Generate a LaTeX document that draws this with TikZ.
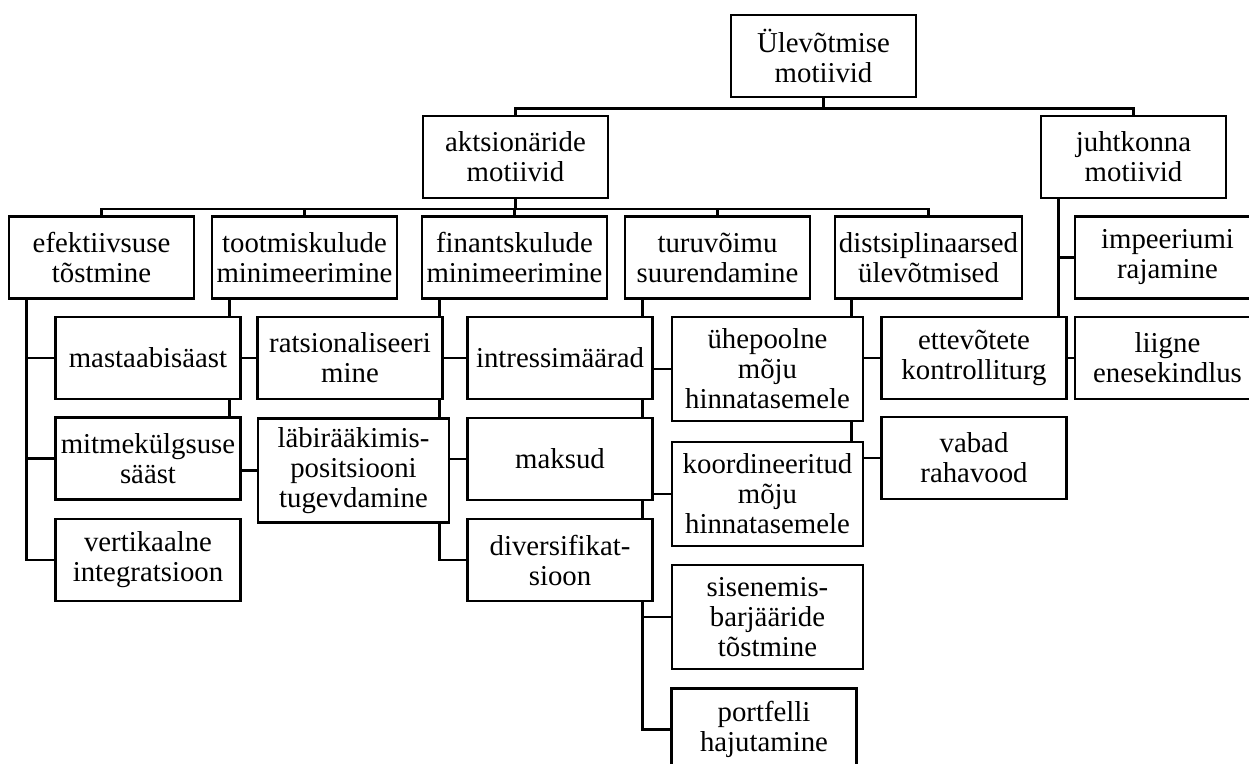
\documentclass[tikz,border=0pt]{standalone}
\usepackage{fontspec}
\setmainfont{Liberation Serif}
\usetikzlibrary{backgrounds}

\begin{document}
\begin{tikzpicture}[x=1pt, y=-1pt,
	box/.style={draw, fill=white, line width=2.6pt, align=center, inner sep=0pt,
		minimum width=185pt, minimum height=82pt, font=\fontsize{28.8}{30}\selectfont},
	tall/.style={minimum width=191pt, minimum height=104pt},
	link/.style={line width=2.6pt}]
	\useasboundingbox (0, 0) rectangle (1249, 763);
	\clip (0, 0) rectangle (1249, 763);
	\node [box] (top) at (823.5, 56) {Ülevõtmise\\motiivid};
	\node [box] (akts) at (515.5, 157) {aktsionäride\\motiivid};
	\node [box] (juht) at (1133.5, 157) {juhtkonna\\motiivid};
	\node [box] (efekt) at (101.5, 257.5) {efektiivsuse\\tõstmine};
	\node [box] (tootm) at (304.5, 257.5) {tootmiskulude\\minimeerimine};
	\node [box] (fin) at (514.5, 257.5) {finantskulude\\minimeerimine};
	\node [box] (turu) at (717.5, 257.5) {turuvõimu\\suurendamine};
	\node [box, minimum width=187pt] (distsip) at (928.5, 257.5) {distsiplinaarsed\\ülevõtmised};
	\node [box] (impeerium) at (1167.5, 257.5) {impeeriumi\\rajamine};
	\node [box] (mastaap) at (148, 358) {mastaabisäast};
	\node [box] (mitmek) at (148, 458.5) {mitmekülgsuse\\sääst};
	\node [box] (vertik) at (148, 560) {vertikaalne\\integratsioon};
	\node [box] (ratsio) at (350, 358) {ratsionaliseeri\\mine};
	\node [box, tall] (labir) at (353.5, 470.5) {läbirääkimis-\\positsiooni\\tugevdamine};
	\node [box] (intress) at (560, 358) {intressimäärad};
	\node [box] (maksud) at (560, 459) {maksud};
	\node [box] (divers) at (560, 560) {diversifikat-\\sioon};
	\node [box, tall] (uhep) at (767.5, 369) {ühepoolne\\mõju\\hinnatasemele};
	\node [box, tall] (koord) at (767.5, 494) {koordineeritud\\mõju\\hinnatasemele};
	\node [box, tall] (sisen) at (767.5, 617) {sisenemis-\\barjääride\\tõstmine};
	\node [box] (portf) at (764, 729.5) {portfelli\\hajutamine};
	\node [box] (kontroll) at (974, 358) {ettevõtete\\kontrolliturg};
	\node [box] (rahavood) at (974, 458) {vabad\\rahavood};
	\node [box] (liigne) at (1167.5, 358) {liigne\\enesekindlus};
	\begin{scope}[on background layer]
		\draw [link] (top.south) -- ++(0, 10) -| (akts.north);
		\draw [link] (top.south) -- ++(0, 10) -| (juht.north);
		\draw [link] (akts.south) -- ++(0, 9.5) -| (efekt.north);
		\draw [link] (akts.south) -- ++(0, 9.5) -| (tootm.north);
		\draw [link] (akts.south) -- ++(0, 9.5) -| (fin.north);
		\draw [link] (akts.south) -- ++(0, 9.5) -| (turu.north);
		\draw [link] (akts.south) -- ++(0, 9.5) -| (distsip.north);
		\draw [link] (efekt.south west) ++(19, 0) |- (mastaap.west);
		\draw [link] (efekt.south west) ++(19, 0) |- (mitmek.west);
		\draw [link] (efekt.south west) ++(19, 0) |- (vertik.west);
		\draw [link] (tootm.south west) ++(19, 0) |- (ratsio.west);
		\draw [link] (tootm.south west) ++(19, 0) |- (labir.west);
		\draw [link] (fin.south west) ++(19, 0) |- (intress.west);
		\draw [link] (fin.south west) ++(19, 0) |- (maksud.west);
		\draw [link] (fin.south west) ++(19, 0) |- (divers.west);
		\draw [link] (turu.south west) ++(19, 0) |- (uhep.west);
		\draw [link] (turu.south west) ++(19, 0) |- (koord.west);
		\draw [link] (turu.south west) ++(19, 0) |- (sisen.west);
		\draw [link] (turu.south west) ++(19, 0) |- (portf.west);
		\draw [link] (distsip.south west) ++(18, 0) |- (kontroll.west);
		\draw [link] (distsip.south west) ++(18, 0) |- (rahavood.west);
		\draw [link] (juht.south west) ++(19, 0) |- (impeerium.west);
		\draw [link] (juht.south west) ++(19, 0) |- (liigne.west);
	\end{scope}
\end{tikzpicture}
\end{document}
